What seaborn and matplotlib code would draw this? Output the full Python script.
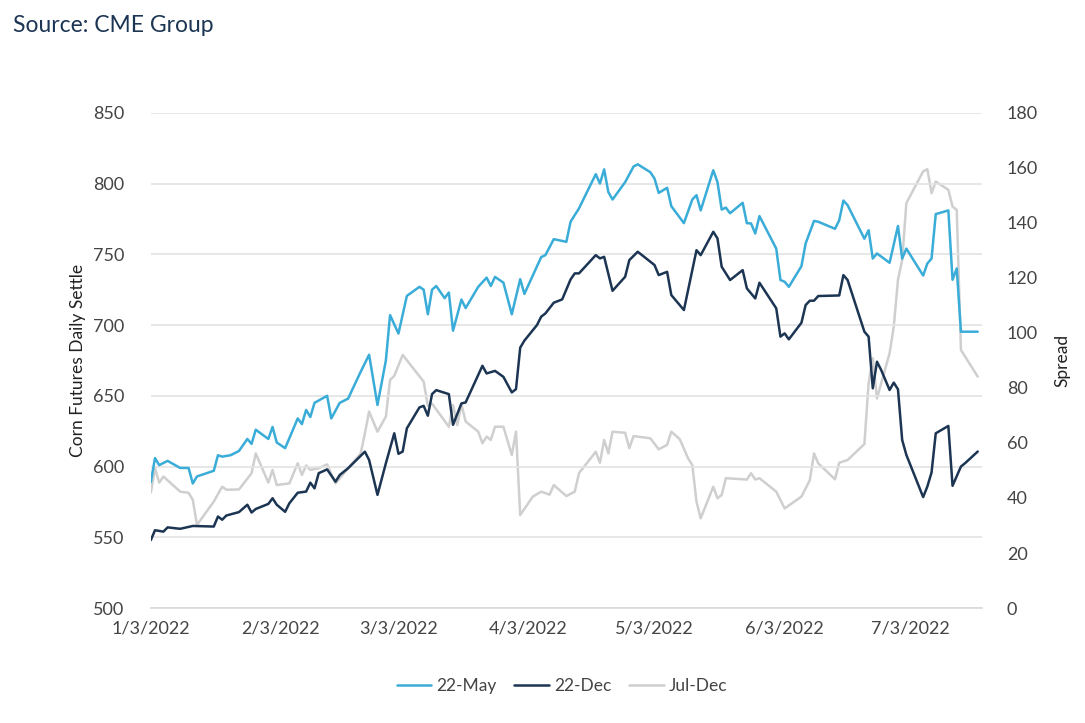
import pandas as pd
import matplotlib.pyplot as plt
import matplotlib.dates as mdates
import seaborn as sns

# 22-May settle (left axis)
may_dates = ["2022-01-03", "2022-01-04", "2022-01-05", "2022-01-07", "2022-01-10", "2022-01-12",
             "2022-01-13", "2022-01-14", "2022-01-18", "2022-01-19", "2022-01-20", "2022-01-22",
             "2022-01-24", "2022-01-26", "2022-01-27", "2022-01-28", "2022-01-31", "2022-02-01",
             "2022-02-02", "2022-02-04", "2022-02-07", "2022-02-08", "2022-02-09", "2022-02-10",
             "2022-02-11", "2022-02-14", "2022-02-15", "2022-02-17", "2022-02-19", "2022-02-22",
             "2022-02-24", "2022-02-26", "2022-02-28", "2022-03-01", "2022-03-03", "2022-03-05",
             "2022-03-08", "2022-03-09", "2022-03-10", "2022-03-11", "2022-03-12", "2022-03-14",
             "2022-03-15", "2022-03-16", "2022-03-18", "2022-03-19", "2022-03-22", "2022-03-24",
             "2022-03-25", "2022-03-26", "2022-03-28", "2022-03-30", "2022-04-01", "2022-04-02",
             "2022-04-06", "2022-04-07", "2022-04-09", "2022-04-12", "2022-04-13", "2022-04-15",
             "2022-04-19", "2022-04-20", "2022-04-21", "2022-04-22", "2022-04-23", "2022-04-26",
             "2022-04-28", "2022-04-29", "2022-05-02", "2022-05-03", "2022-05-04", "2022-05-06",
             "2022-05-07", "2022-05-10", "2022-05-12", "2022-05-13", "2022-05-14", "2022-05-17",
             "2022-05-18", "2022-05-19", "2022-05-20", "2022-05-21", "2022-05-24", "2022-05-25",
             "2022-05-26", "2022-05-27", "2022-05-28", "2022-06-01", "2022-06-02", "2022-06-03",
             "2022-06-04", "2022-06-07", "2022-06-08", "2022-06-10", "2022-06-11", "2022-06-15",
             "2022-06-16", "2022-06-17", "2022-06-18", "2022-06-22", "2022-06-23", "2022-06-24",
             "2022-06-25", "2022-06-28", "2022-06-30", "2022-07-01", "2022-07-02", "2022-07-06",
             "2022-07-07", "2022-07-08", "2022-07-09", "2022-07-12", "2022-07-13", "2022-07-14",
             "2022-07-15", "2022-07-19"]
may_vals = [589, 606, 601, 604, 599, 599, 588, 593, 597, 608, 607, 608,
            611, 619.5, 616, 626, 619.5, 628, 617, 613, 634, 630, 640, 635,
            645, 650, 634, 645, 648, 667, 679, 643.5, 675, 707, 694, 720.6,
            727, 725, 707.6, 725, 727.6, 719, 723, 696, 718, 712, 727, 733.5,
            727.6, 734, 730, 707.6, 732.4, 722, 748, 749.4, 760.7, 758.8, 773, 782.4,
            806.6, 800, 810, 794, 788.7, 801, 812, 813.6, 808, 803.5, 793.4, 797,
            784, 772, 788.7, 791.8, 781, 809.4, 801, 781.6, 783, 779, 786.4, 772,
            771.8, 764.7, 777, 754, 731.8, 730.6, 727, 741.6, 757.6, 773.6, 773, 768,
            774, 788, 784.7, 761, 767, 747, 750.6, 744, 770, 747, 754, 735,
            743.5, 747, 778.4, 781, 732, 740, 695.3, 695.3]

# 22-Dec settle (left axis)
dec_dates = ["2022-01-03", "2022-01-04", "2022-01-06", "2022-01-07", "2022-01-10", "2022-01-13",
             "2022-01-18", "2022-01-19", "2022-01-20", "2022-01-21", "2022-01-24", "2022-01-26",
             "2022-01-27", "2022-01-28", "2022-01-31", "2022-02-01", "2022-02-02", "2022-02-04",
             "2022-02-05", "2022-02-07", "2022-02-09", "2022-02-10", "2022-02-11", "2022-02-12",
             "2022-02-14", "2022-02-16", "2022-02-17", "2022-02-19", "2022-02-23", "2022-02-24",
             "2022-02-26", "2022-02-28", "2022-03-02", "2022-03-03", "2022-03-04", "2022-03-05",
             "2022-03-08", "2022-03-09", "2022-03-10", "2022-03-11", "2022-03-12", "2022-03-15",
             "2022-03-16", "2022-03-18", "2022-03-19", "2022-03-23", "2022-03-24", "2022-03-26",
             "2022-03-28", "2022-03-30", "2022-03-31", "2022-04-01", "2022-04-02", "2022-04-05",
             "2022-04-06", "2022-04-07", "2022-04-09", "2022-04-11", "2022-04-13", "2022-04-14",
             "2022-04-15", "2022-04-19", "2022-04-20", "2022-04-21", "2022-04-23", "2022-04-26",
             "2022-04-27", "2022-04-29", "2022-05-03", "2022-05-04", "2022-05-06", "2022-05-07",
             "2022-05-10", "2022-05-13", "2022-05-14", "2022-05-17", "2022-05-18", "2022-05-19",
             "2022-05-21", "2022-05-24", "2022-05-25", "2022-05-27", "2022-05-28", "2022-06-01",
             "2022-06-02", "2022-06-03", "2022-06-04", "2022-06-07", "2022-06-08", "2022-06-09",
             "2022-06-10", "2022-06-11", "2022-06-16", "2022-06-17", "2022-06-18", "2022-06-22",
             "2022-06-23", "2022-06-24", "2022-06-25", "2022-06-26", "2022-06-28", "2022-06-29",
             "2022-06-30", "2022-07-01", "2022-07-02", "2022-07-06", "2022-07-07", "2022-07-08",
             "2022-07-09", "2022-07-12", "2022-07-13", "2022-07-15", "2022-07-16", "2022-07-19"]
dec_vals = [548, 555, 554, 557, 556, 558, 557.6, 564.7, 562.4, 565.4, 567.8, 573,
            567.5, 570, 573.6, 577.6, 573, 568, 574, 581.5, 582.3, 588.6, 584.6, 595.3,
            598, 589.3, 594, 598.8, 610.5, 604.7, 580, 602.3, 623.5, 609, 610.6, 627,
            641.8, 642.9, 635.9, 651.2, 654, 651.2, 629.5, 644.6, 645.3, 671.2, 665.8, 667.6,
            663.4, 652.4, 654.7, 684, 689, 700, 705.9, 708.2, 715.8, 718.1, 732.2, 736.5,
            736.5, 749.4, 747.1, 748.2, 724.2, 734.1, 745.9, 751.8, 742.4, 735.3, 737.6, 721.2,
            710.6, 752.9, 749.4, 765.9, 761.2, 741.2, 731.8, 738.8, 725.9, 718.8, 729.9, 711.8,
            691.8, 694.1, 689.9, 701.6, 714.1, 717.2, 717.2, 720.5, 720.9, 735.3, 731.8, 695.3,
            691.8, 655.3, 674.1, 668.2, 654.1, 659.3, 654.6, 618.8, 608.2, 578.4, 585.9, 595.8,
            623.5, 628.7, 586.4, 600, 602.4, 610.6]

# Jul-Dec spread (right axis)
spread_dates = ["2022-01-03", "2022-01-04", "2022-01-05", "2022-01-06", "2022-01-10", "2022-01-12",
                "2022-01-13", "2022-01-14", "2022-01-18", "2022-01-20", "2022-01-21", "2022-01-24",
                "2022-01-27", "2022-01-28", "2022-01-31", "2022-02-01", "2022-02-02", "2022-02-05",
                "2022-02-07", "2022-02-08", "2022-02-09", "2022-02-10", "2022-02-12", "2022-02-14",
                "2022-02-16", "2022-02-19", "2022-02-22", "2022-02-23", "2022-02-24", "2022-02-26",
                "2022-02-28", "2022-03-01", "2022-03-02", "2022-03-04", "2022-03-09", "2022-03-10",
                "2022-03-11", "2022-03-15", "2022-03-16", "2022-03-17", "2022-03-18", "2022-03-19",
                "2022-03-22", "2022-03-23", "2022-03-24", "2022-03-25", "2022-03-26", "2022-03-28",
                "2022-03-30", "2022-03-31", "2022-04-01", "2022-04-04", "2022-04-06", "2022-04-08",
                "2022-04-09", "2022-04-12", "2022-04-14", "2022-04-15", "2022-04-19", "2022-04-20",
                "2022-04-21", "2022-04-22", "2022-04-23", "2022-04-26", "2022-04-27", "2022-04-28",
                "2022-05-02", "2022-05-04", "2022-05-06", "2022-05-07", "2022-05-09", "2022-05-11",
                "2022-05-12", "2022-05-13", "2022-05-14", "2022-05-17", "2022-05-18", "2022-05-19",
                "2022-05-20", "2022-05-25", "2022-05-26", "2022-05-27", "2022-05-28", "2022-06-01",
                "2022-06-03", "2022-06-07", "2022-06-09", "2022-06-10", "2022-06-11", "2022-06-15",
                "2022-06-16", "2022-06-18", "2022-06-22", "2022-06-23", "2022-06-24", "2022-06-25",
                "2022-06-28", "2022-06-29", "2022-06-30", "2022-07-01", "2022-07-02", "2022-07-06",
                "2022-07-07", "2022-07-08", "2022-07-09", "2022-07-12", "2022-07-13", "2022-07-14",
                "2022-07-15", "2022-07-19"]
spread_vals = [41.9, 50.8, 45.6, 47.8, 42.3, 41.9, 39.3, 30.2, 38.7, 44.1, 43, 43.1,
               49, 56.2, 45.6, 50.2, 44.7, 45.3, 52.6, 48.4, 51.8, 50.2, 50.8, 52.2,
               45.3, 50.8, 56.2, 63.5, 71.4, 64.1, 69.6, 82.9, 84.4, 92, 82.3, 73.5,
               74.3, 65.9, 73.8, 66.5, 74, 67.8, 64.1, 59.9, 62.3, 61.1, 65.9, 65.9,
               55.6, 64.1, 33.8, 40.5, 42.3, 41.2, 44.7, 40.7, 42.3, 49, 56.8, 52.8,
               61.1, 56.2, 64.1, 63.7, 58.1, 62.5, 61.7, 57.7, 59.3, 64.1, 61.4, 54.4,
               52, 38.7, 32.6, 44.1, 39.9, 41.1, 47.2, 46.7, 49, 46.7, 47.2, 42.3,
               36.2, 40.5, 46.5, 56.2, 52.6, 46.8, 52.8, 53.8, 59.6, 81.7, 90.8, 76.2,
               92.6, 102.3, 119.3, 126.5, 147.2, 158.7, 159.5, 150.8, 155, 152, 145.9, 144.7,
               93.8, 84.1]

x_ticks = ["2022-01-03", "2022-02-03", "2022-03-03", "2022-04-03",
           "2022-05-03", "2022-06-03", "2022-07-03"]

may = pd.DataFrame({"date": pd.to_datetime(may_dates), "value": may_vals})
dec = pd.DataFrame({"date": pd.to_datetime(dec_dates), "value": dec_vals})
spread = pd.DataFrame({"date": pd.to_datetime(spread_dates), "value": spread_vals})

sns.set_style("white")
plt.rcParams["font.family"] = ["Lato", "DejaVu Sans"]

c_may = "#3aacd8"
c_dec = "#1c3553"
c_spread = "#cfcfcf"
txt = "#444444"

fig = plt.figure(figsize=(10.85, 7.23), dpi=100)
ax = fig.add_axes([0.139, 0.159, 0.766, 0.685])
ax2 = ax.twinx()

sns.lineplot(data=spread, x="date", y="value", ax=ax2, color=c_spread, linewidth=1.8, label="Jul-Dec", legend=False)
sns.lineplot(data=may, x="date", y="value", ax=ax, color=c_may, linewidth=1.8, label="22-May", legend=False)
sns.lineplot(data=dec, x="date", y="value", ax=ax, color=c_dec, linewidth=1.8, label="22-Dec", legend=False)

# left axis drawn above the spread line
ax.set_zorder(ax2.get_zorder() + 1)
ax.patch.set_visible(False)
ax2.grid(False)

ax.set_xlim(pd.Timestamp("2022-01-03"), pd.Timestamp("2022-07-20"))
ax.set_ylim(500, 850)
ax.set_yticks(range(500, 851, 50))
ax2.set_ylim(0, 180)
ax2.set_yticks(range(0, 181, 20))

ax.set_xticks(pd.to_datetime(x_ticks))
ax.xaxis.set_major_formatter(mdates.DateFormatter("%-m/%-d/%Y"))

ax.yaxis.grid(True, color="#e3e3e3", linewidth=1.2)
ax.xaxis.grid(False)

for a in (ax, ax2):
    for s in ["top", "left", "right", "bottom"]:
        a.spines[s].set_visible(False)
ax.spines["bottom"].set_visible(True)
ax.spines["bottom"].set_color("#d9d9d9")
ax.spines["bottom"].set_linewidth(1.2)

ax.tick_params(axis="x", length=5, color="#d9d9d9", width=1.2, labelsize=13, labelcolor=txt, pad=4)
ax.tick_params(axis="y", length=0, labelsize=13, labelcolor=txt, pad=19)
ax2.tick_params(axis="y", length=0, labelsize=13, labelcolor=txt, pad=18)

ax.set_xlabel("")
ax.set_ylabel("Corn Futures Daily Settle", fontsize=12.5, color="#222222", labelpad=5)
ax2.set_ylabel("Spread", fontsize=12.5, color="#222222", labelpad=12)

h1, l1 = ax.get_legend_handles_labels()
h2, l2 = ax2.get_legend_handles_labels()
fig.legend(h1 + h2, l1 + l2, loc="center", bbox_to_anchor=(0.518, 0.051), ncol=3, frameon=False,
           fontsize=12.5, labelcolor=txt, handlelength=2.0, handletextpad=0.3, columnspacing=1.0)

fig.text(0.012, 0.965, "Source: CME Group", fontsize=16.5, color="#1c3553", va="center", ha="left")

fig.savefig("out.png", dpi=100)
